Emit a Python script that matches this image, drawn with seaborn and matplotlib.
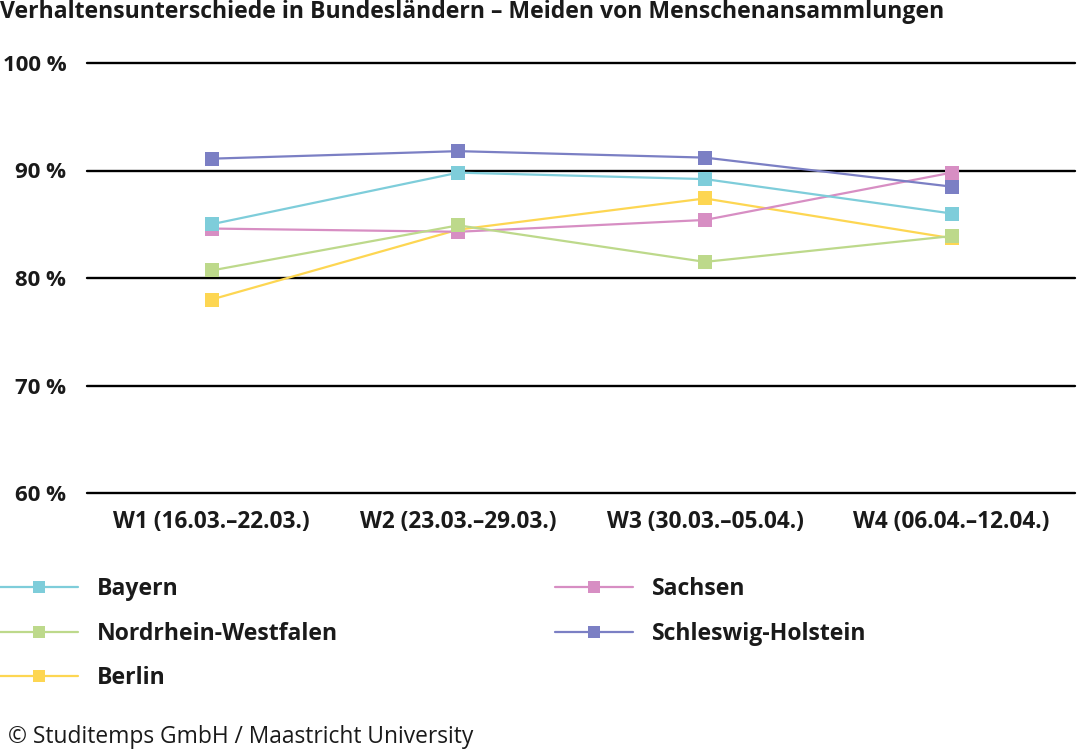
import matplotlib
matplotlib.use("Agg")
import matplotlib.pyplot as plt
import seaborn as sns
import pandas as pd
from matplotlib.lines import Line2D

weeks = ["W1 (16.03.–22.03.)", "W2 (23.03.–29.03.)", "W3 (30.03.–05.04.)", "W4 (06.04.–12.04.)"]
bayern = [85.0, 89.8, 89.2, 86.0]
sachsen = [84.6, 84.3, 85.4, 89.8]
nrw = [80.7, 84.9, 81.5, 83.9]
berlin = [78.0, 84.5, 87.4, 83.7]
schleswig = [91.1, 91.8, 91.2, 88.5]
yticks = [60, 70, 80, 90, 100]
ytick_labels = ["60 %", "70 %", "80 %", "90 %", "100 %"]

series = {
    "Berlin": berlin,
    "Sachsen": sachsen,
    "Schleswig-Holstein": schleswig,
    "Nordrhein-Westfalen": nrw,
    "Bayern": bayern,
}
colors = {
    "Bayern": "#7ecdda",
    "Nordrhein-Westfalen": "#bdd98b",
    "Berlin": "#fdd652",
    "Sachsen": "#d78ec3",
    "Schleswig-Holstein": "#7b7fc4",
}

rows = []
for name, vals in series.items():
    for i, (w, v) in enumerate(zip(weeks, vals)):
        rows.append({"Land": name, "idx": i, "Woche": w, "Wert": v})
df = pd.DataFrame(rows)

sns.set_theme(style="white")
plt.rcParams["font.family"] = ["Open Sans", "DejaVu Sans"]

fig = plt.figure(figsize=(10.87, 7.5), dpi=100)
ax = fig.add_axes([87 / 1087, 1 - 493 / 750, (1075 - 87) / 1087, (493 - 63) / 750])

sns.lineplot(data=df, x="idx", y="Wert", hue="Land", palette=colors,
             hue_order=list(series.keys()), marker="s", markersize=9.5,
             markeredgewidth=0, linewidth=1.6, sort=False, ax=ax, legend=False)

ax.set_xlim(-0.505, 3.5)
ax.set_ylim(60, 100)
ax.set_yticks(yticks)
ax.set_yticklabels(ytick_labels, fontsize=16, fontweight="bold", color="#1a1a1a")
ax.set_xticks(range(len(weeks)))
ax.set_xticklabels(weeks, fontsize=16.3, fontweight="bold", color="#1a1a1a")
ax.tick_params(axis="y", length=0, pad=15)
ax.tick_params(axis="x", length=0, pad=12)
ax.set_xlabel("")
ax.set_ylabel("")
for s in ax.spines.values():
    s.set_visible(False)
for y in yticks:
    ax.axhline(y, color="black", linewidth=1.7, zorder=0.5, clip_on=False)

fig.text(0.0, 1 - 12 / 750, "Verhaltensunterschiede in Bundesländern – Meiden von Menschenansammlungen",
         fontsize=16.6, fontweight="bold", color="#1a1a1a", va="center", ha="left")
fig.text(8 / 1087, 1 - 737 / 750, "© Studitemps GmbH / Maastricht University",
         fontsize=16.4, color="#1a1a1a", va="center", ha="left")

def handle(name):
    return Line2D([0], [0], color=colors[name], linewidth=1.6, marker="s",
                  markersize=8, markeredgewidth=0)

col1 = ["Bayern", "Nordrhein-Westfalen", "Berlin"]
col2 = ["Sachsen", "Schleswig-Holstein"]
leg_kw = dict(loc="upper left", frameon=False, handlelength=3.4,
              handletextpad=0.8, labelspacing=0.9, borderpad=0, borderaxespad=0,
              prop={"weight": "bold", "size": 16.6})
l1 = fig.legend([handle(n) for n in col1], col1, bbox_to_anchor=(0.0, 1 - 577 / 750), **leg_kw)
l2 = fig.legend([handle(n) for n in col2], col2, bbox_to_anchor=(555 / 1087, 1 - 577 / 750), **leg_kw)
for l in (l1, l2):
    for t in l.get_texts():
        t.set_color("#1a1a1a")

fig.savefig("out.png", dpi=100)
